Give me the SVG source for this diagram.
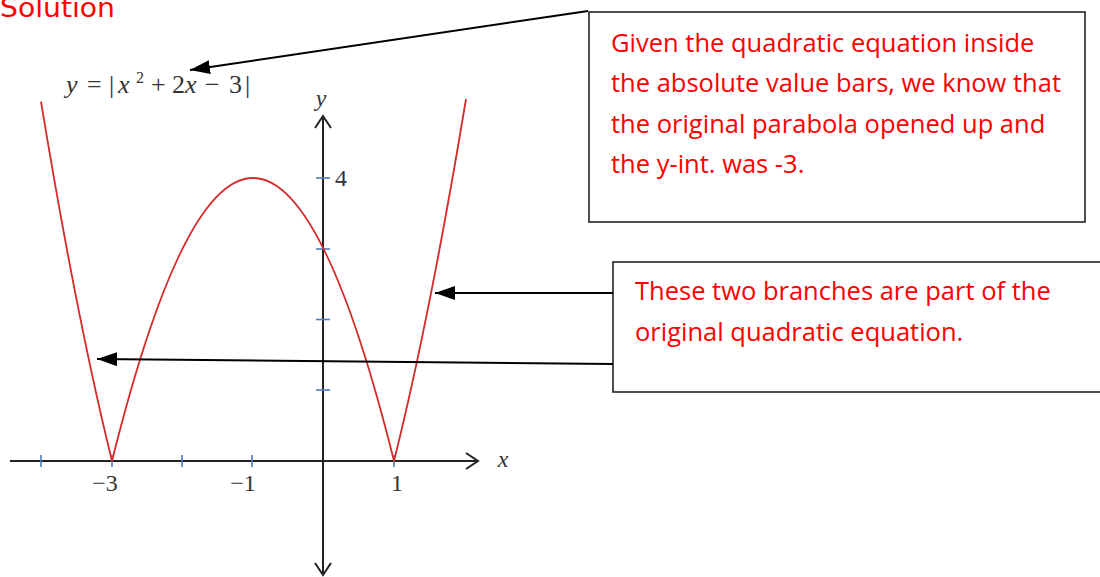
<svg xmlns="http://www.w3.org/2000/svg" width="1100" height="577" viewBox="0 0 1100 577">
<defs>
<style>
.axis{stroke:#222;stroke-width:2;fill:none}
.tick{stroke:#4a7ebb;stroke-width:1.6}
.curve{stroke:#d42a2a;stroke-width:1.8;fill:none}
.math{font-family:"Liberation Serif",serif;fill:#333}
.note{font-family:"Open Sans","Liberation Sans",sans-serif;font-size:25.5px;fill:#f00}
.box{fill:#fff;stroke:#222;stroke-width:1.6}
.conn{stroke:#000;stroke-width:2;fill:none}
</style>
<marker id="arr" viewBox="0 0 20 14" refX="20" refY="7" markerWidth="20" markerHeight="14" markerUnits="userSpaceOnUse" orient="auto">
<path d="M0,0 L20,7 L0,14 z" fill="#000"/>
</marker>
</defs>
<rect width="1100" height="577" fill="#fff"/>
<text x="0" y="17" font-family="'DejaVu Sans',sans-serif" font-size="26" fill="#f00" textLength="115" lengthAdjust="spacingAndGlyphs">Solution</text>
<g id="graph">
<path class="axis" d="M10,461 H478"/>
<path class="axis" d="M466,453 L478,461 L466,469"/>
<path class="axis" d="M323,116 V575"/>
<path class="axis" d="M315,128 L323,116 L331,128"/>
<path class="axis" d="M315,563 L323,575 L331,563"/>
<g class="tick">
<line x1="41" y1="455" x2="41" y2="467"/>
<line x1="112" y1="455" x2="112" y2="467"/>
<line x1="182" y1="455" x2="182" y2="467"/>
<line x1="252" y1="455" x2="252" y2="467"/>
<line x1="394" y1="455" x2="394" y2="467"/>
<line x1="316" y1="390" x2="330" y2="390"/>
<line x1="316" y1="319.5" x2="330" y2="319.5"/>
<line x1="316" y1="249" x2="330" y2="249"/>
<line x1="316" y1="178" x2="330" y2="178"/>
</g>
<path class="curve" d="M41,101.6 Q76.4,316.7 112,461 Q253,-105 394,461 Q430,316.7 466,99"/>
<text class="math" x="105" y="491" font-size="24" text-anchor="middle">−3</text>
<text class="math" x="243" y="491" font-size="24" text-anchor="middle">−1</text>
<text class="math" x="397" y="491" font-size="24" text-anchor="middle">1</text>
<text class="math" x="335" y="186" font-size="24">4</text>
<text class="math" x="321" y="106" font-size="24" font-style="italic" text-anchor="middle">y</text>
<text class="math" x="503" y="467" font-size="24" font-style="italic" text-anchor="middle">x</text>
<text class="math" y="93" font-size="26"><tspan x="66" font-style="italic">y</tspan><tspan x="87">=</tspan><tspan x="109">|</tspan><tspan x="118" font-style="italic">x</tspan><tspan x="136" y="83" font-size="16">2</tspan><tspan x="151" y="93">+</tspan><tspan x="172">2</tspan><tspan x="185" font-style="italic">x</tspan><tspan x="205">−</tspan><tspan x="229">3</tspan><tspan x="245">|</tspan></text>
</g>
<g id="note1">
<rect class="box" x="589" y="12" width="496" height="210"/>
<text class="note" x="611" y="52">Given the quadratic equation inside</text>
<text class="note" x="611" y="92">the absolute value bars, we know that</text>
<text class="note" x="611" y="133">the original parabola opened up and</text>
<text class="note" x="611" y="173">the y-int. was -3.</text>
</g>
<g id="note2">
<rect class="box" x="613" y="262" width="500" height="130"/>
<text class="note" x="635" y="300">These two branches are part of the</text>
<text class="note" x="635" y="341">original quadratic equation.</text>
</g>
<g id="connectors">
<line class="conn" x1="588" y1="11" x2="190" y2="70" marker-end="url(#arr)"/>
<line class="conn" x1="613" y1="293" x2="435" y2="293" marker-end="url(#arr)"/>
<line class="conn" x1="613" y1="364" x2="97" y2="359" marker-end="url(#arr)"/>
</g>
</svg>
